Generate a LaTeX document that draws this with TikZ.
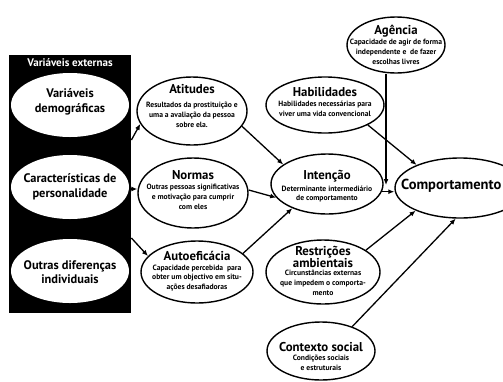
\documentclass[tikz,border=0pt]{standalone}
\usepackage{fontspec}
\setmainfont{PT Sans}
\usetikzlibrary{shapes.geometric,arrows.meta}
\begin{document}
\begin{tikzpicture}[x=1pt,y=-1pt,
  ell/.style={draw=black, line width=1.4pt, ellipse, fill=white, inner sep=0pt},
  lell/.style={ellipse, fill=white, inner sep=0pt, minimum width=118pt, minimum height=64pt},
  ttl/.style={font=\fontsize{12.8}{13}\selectfont\bfseries, align=center, inner sep=0pt},
  ltxt/.style={font=\fontsize{12.4}{14.5}\selectfont\bfseries, align=center, inner sep=0pt},
  sub/.style={font=\fontsize{7.6}{9.8}\selectfont\bfseries, align=center, inner sep=0pt},
  arr/.style={line width=1.3pt, -{Latex[length=6pt,width=5pt]}}
]
\useasboundingbox (0,0) rectangle (503,381);
\clip (0,0) rectangle (503,381);

% external variables box
\node[fill=black, minimum width=122pt, minimum height=258pt, inner sep=0pt, anchor=north west] (ext) at (9,55) {};
\node[font=\fontsize{11}{11}\selectfont\bfseries, text=white, inner sep=0pt] (exttitle) at (70,63) {Variáveis externas};
\node[lell] (dem) at (70,105) {};
\node[ltxt] (demt) at (70,102) {Variáveis\\demográficas};
\node[lell] (per) at (70,187) {};
\node[ltxt] (pert) at (70,187) {Características de\\personalidade};
\node[lell] (out) at (70,271) {};
\node[ltxt] (outt) at (70,272) {Outras diferenças\\individuais};

% middle ellipses
\node[ell, minimum width=110pt, minimum height=68pt] (att) at (192,111) {};
\node[ttl] (attt) at (192,89) {Atitudes};
\node[sub] (atts) at (192,115) {Resultados da prostituição e\\uma a avaliação da pessoa\\sobre ela.};

\node[ell, minimum width=110pt, minimum height=70pt] (nor) at (193,193) {};
\node[ttl] (nort) at (193,175) {Normas};
\node[sub] (nors) at (193,197) {Outras pessoas significativas\\e motivação para cumprir\\com eles};

\node[ell, minimum width=112pt, minimum height=62pt] (aut) at (197,272) {};
\node[ttl] (autt) at (197,256) {Autoeficácia};
\node[sub] (auts) at (197,278) {Capacidade percebida \ para\\obter um objectivo em situ-\\ações desafiadoras};

\node[ell, minimum width=118pt, minimum height=56pt] (hab) at (325,105) {};
\node[ttl] (habt) at (325,92) {Habilidades};
\node[sub] (habs) at (325,109) {Habilidades necessárias para\\viver uma vida convencional};

\node[ell, minimum width=112pt, minimum height=60pt] (int) at (327,184) {};
\node[ttl] (intt) at (327,176) {Intenção};
\node[sub] (ints) at (327,194) {Determinante intermediário\\de comportamento};

\node[ell, minimum width=98pt, minimum height=56pt] (ag) at (396,45) {};
\node[ttl] (agt) at (396,31) {Agência};
\node[sub] (ags) at (396,52) {Capacidade de agir de forma\\independente e \ de fazer\\escolhas livres};

\node[ell, minimum width=114pt, minimum height=64pt] (res) at (323,272) {};
\node[ttl, font=\fontsize{12.8}{11.5}\selectfont\bfseries] (rest) at (323,257) {Restrições\\ambientais};
\node[sub] (ress) at (323,283) {Circunstâncias externas\\que impedem o comporta-\\mento};

\node[ell, minimum width=108pt, minimum height=58pt] (ctx) at (321,351) {};
\node[ttl] (ctxt) at (321,347) {Contexto social};
\node[sub] (ctxs) at (321,363) {Condições sociais\\e estruturais};

\node[ell, minimum width=130pt, minimum height=60pt] (comp) at (460,188) {};
\node[ttl, font=\fontsize{14.5}{15}\selectfont\bfseries, anchor=west] (compt) at (401,186) {Comportamento};

% connectors
\draw[arr] (ext.east |- 0,140) -- (att.194);
\draw[arr] (ext.east |- 0,189) -- (nor.west |- 0,189);
\draw[arr] (ext.east |- 0,238) -- (aut.162);
\draw[arr] (att.-17) -- (int.156);
\draw[arr] (nor.east |- 0,190) -- (int.195);
\draw[arr] (aut.22) -- (int.215);
\coordinate (agend) at (386,185);
\draw[arr] (ag.south -| agend) -- (agend);
\draw[arr] (int.-8) -- (int.-8 -| comp.west);
\draw[arr] (hab.-25) -- (comp.152);
\draw[arr] (res.27) -- (comp.207);
\draw[arr] (ctx.38) -- (comp.262);
\end{tikzpicture}
\end{document}
